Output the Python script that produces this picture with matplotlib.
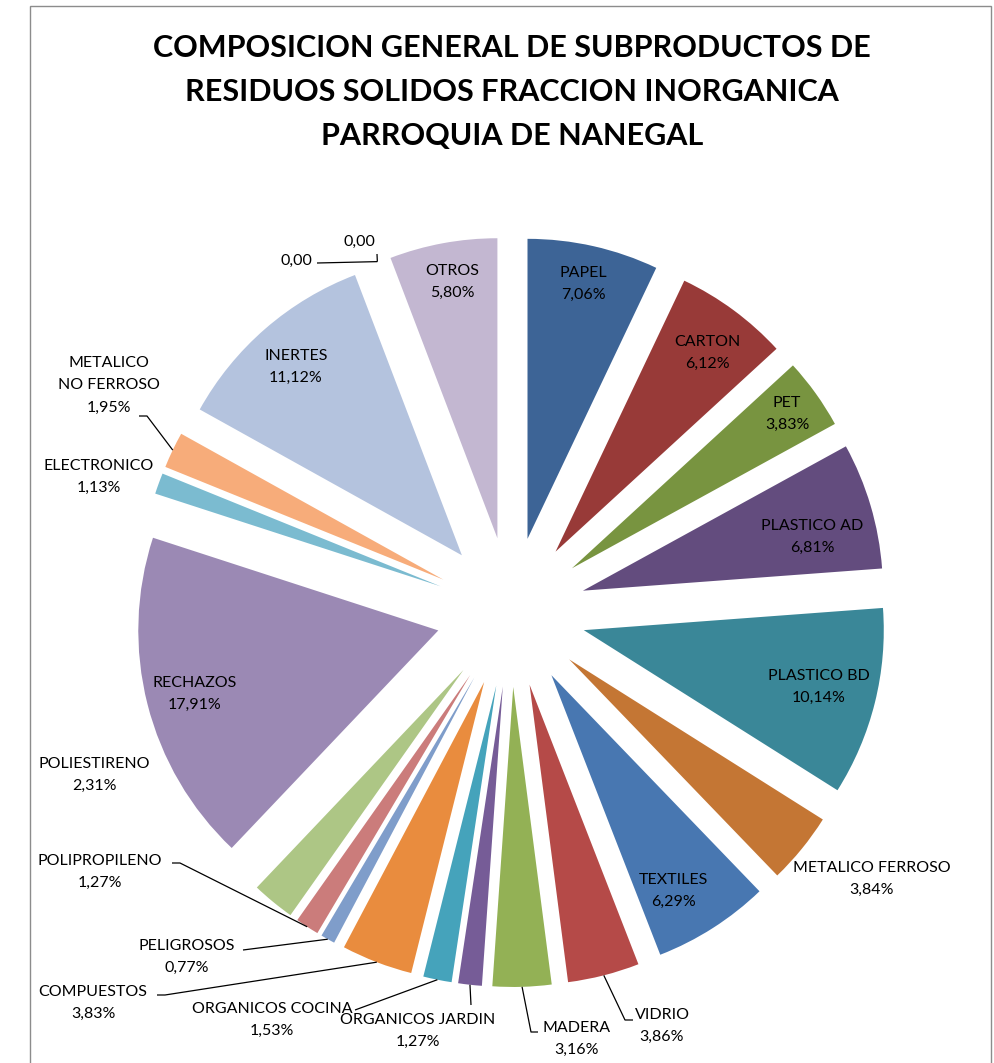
import numpy as np
import matplotlib
matplotlib.use('Agg')
import matplotlib.pyplot as plt
from matplotlib.patches import Rectangle

# data
categorias = ['PAPEL', 'CARTON', 'PET', 'PLASTICO AD', 'PLASTICO BD', 'METALICO FERROSO',
              'TEXTILES', 'VIDRIO', 'MADERA', 'ORGANICOS JARDIN', 'ORGANICOS COCINA',
              'COMPUESTOS', 'PELIGROSOS', 'POLIPROPILENO', 'POLIESTIRENO', 'RECHAZOS',
              'ELECTRONICO', 'METALICO\nNO FERROSO', 'INERTES', '', '', 'OTROS']
porcentajes = [7.06, 6.12, 3.83, 6.81, 10.14, 3.84, 6.29, 3.86, 3.16, 1.27, 1.53,
               3.83, 0.77, 1.27, 2.31, 17.91, 1.13, 1.95, 11.12, 0.00, 0.00, 5.80]
colores = ['#3D6496', '#983A38', '#789440', '#634C7E', '#3A8798', '#C47634',
           '#4877B1', '#B54A48', '#93B155', '#765C97', '#45A3BB', '#E98C3E',
           '#7F9DCA', '#CB7C7B', '#ADC685', '#9B89B4', '#7BBBD0', '#F7AC7A',
           '#B4C3DE', '#D9B3B2', '#D4E2BC', '#C3B7D1']

titulo = 'COMPOSICION GENERAL DE SUBPRODUCTOS DE\nRESIDUOS SOLIDOS FRACCION INORGANICA\nPARROQUIA DE NANEGAL'

W, H = 995, 1063
CX, CY, S = 511, 612, 300.0   # pie centre in pixels, pixels per unit


def px(x, y):
    return (x - CX) / S, (CY - y) / S


# label block centres (pixels)
pos_etiquetas = [(583, 284), (707, 353), (787, 414), (812, 537), (819, 687), (872, 879),
                 (673, 891), (662, 1026), (577, 1039), (418, 1031), (272, 1020),
                 (93, 1003), (187, 957), (100, 872), (94, 775), (195, 694),
                 (99, 477), (109, 385), (296, 367), (296, 261), (359, 242), (452, 282)]

# leader lines: slice index -> points on the text side (pixels)
guias = {19: [(317, 263)], 20: [(377, 254)], 17: [(139, 416), (147, 416)],
         13: [(172, 863), (180, 863)], 12: [(243, 950)], 11: [(157, 995), (165, 995)],
         10: [(355, 1010)], 9: [(471, 1005)], 8: [(538, 1032), (531, 1032)],
         7: [(633, 1020), (625, 1020)]}

plt.rcParams['font.family'] = ['Lato', 'DejaVu Sans']

fig = plt.figure(figsize=(W / 100, H / 100), dpi=100)
ax = fig.add_axes([0, 0, 1, 1])

wedges, _ = ax.pie(porcentajes, colors=colores, startangle=90, counterclock=False,
                   explode=[0.25] * len(porcentajes), radius=1.0,
                   wedgeprops=dict(linewidth=0))

ax.set_xlim(-CX / S, (W - CX) / S)
ax.set_ylim(-(H - CY) / S, CY / S)
ax.set_aspect('auto')
ax.axis('off')

for i, (nombre, v) in enumerate(zip(categorias, porcentajes)):
    if v == 0:
        txt = '0,00'
    else:
        txt = nombre + '\n' + f'{v:.2f}'.replace('.', ',') + '%'
    x, y = px(*pos_etiquetas[i])
    ax.text(x, y, txt, ha='center', va='center', fontsize=11.5,
            linespacing=1.77, color='black')

for i, pts in guias.items():
    w = wedges[i]
    mid = np.deg2rad((w.theta1 + w.theta2) / 2)
    ancla = (w.center[0] + w.r * np.cos(mid), w.center[1] + w.r * np.sin(mid))
    xs = [px(*p)[0] for p in pts] + [ancla[0]]
    ys = [px(*p)[1] for p in pts] + [ancla[1]]
    ax.plot(xs, ys, color='black', lw=0.9, solid_capstyle='butt')

fig.text(512 / W, 1 - 92 / H, titulo, ha='center', va='center', fontsize=22,
         fontweight='bold', linespacing=1.68)

fig.add_artist(Rectangle((30 / W, -0.01), (991 - 30) / W, 1.01 - 6 / H,
                         transform=fig.transFigure, fill=False,
                         edgecolor='#8C8C8C', lw=1))

fig.savefig('out.png', dpi=100)
